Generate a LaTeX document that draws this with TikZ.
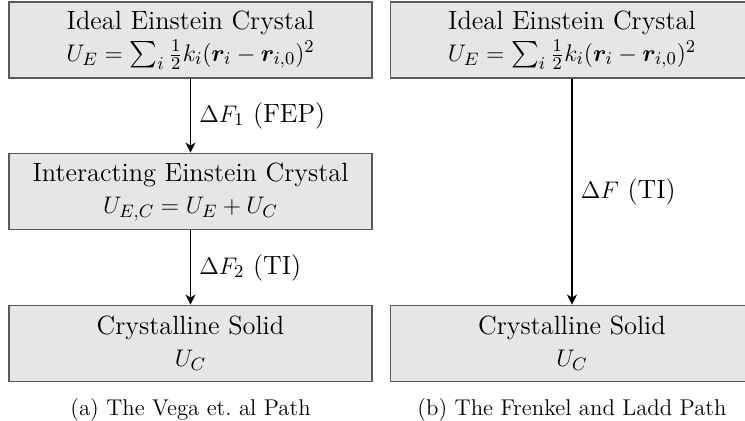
\documentclass[tikz,border=0pt]{standalone}
\usepackage{amsmath,amssymb,bm}
\usetikzlibrary{arrows.meta,positioning}
\definecolor{boxfill}{HTML}{E6E6E6}
\definecolor{boxline}{HTML}{5A5A5A}
\tikzset{
  statebox/.style={draw=boxline, line width=0.9pt, fill=boxfill, minimum width=181.5pt,
    minimum height=38pt, font=\fontsize{13.2}{16}\selectfont, align=center, inner sep=1pt},
  flow/.style={-{Stealth[length=5pt, width=5pt, inset=1.5pt]}, line width=0.9pt},
  steplabel/.style={right, font=\fontsize{13.2}{16}\selectfont, inner sep=4pt},
  subcap/.style={font=\fontsize{11.4}{13}\selectfont},
}

\begin{document}
\begin{tikzpicture}
\useasboundingbox (0,0) rectangle (372.5pt,-210.5pt);

% (a) Vega et al.
\node[statebox] (idealA) at (95.25pt,-20pt) {Ideal Einstein Crystal\\$U_E=\sum_i \frac{1}{2}k_i(\bm{r}_i-\bm{r}_{i,0})^2$};
\node[statebox] (inter) at (95.25pt,-95.75pt) {Interacting Einstein Crystal\\$U_{E,C}=U_E+U_C$};
\node[statebox] (solidA) at (95.25pt,-171.75pt) {Crystalline Solid\\$U_C$};

\draw[flow] (idealA) -- node[steplabel] {$\Delta F_1$ (FEP)} (inter);
\draw[flow] (inter) -- node[steplabel] {$\Delta F_2$ (TI)} (solidA);

\node[subcap, below=4.5pt of solidA] (capA) {(a) The Vega et.\ al Path};

% (b) Frenkel and Ladd
\node[statebox] (idealB) at (286pt,-20pt) {Ideal Einstein Crystal\\$U_E=\sum_i \frac{1}{2}k_i(\bm{r}_i-\bm{r}_{i,0})^2$};
\node[statebox] (solidB) at (286pt,-171.75pt) {Crystalline Solid\\$U_C$};

\draw[flow] (idealB) -- node[steplabel] {$\Delta F$ (TI)} (solidB);

\node[subcap, below=4.5pt of solidB] (capB) {(b) The Frenkel and Ladd Path};

\end{tikzpicture}
\end{document}
